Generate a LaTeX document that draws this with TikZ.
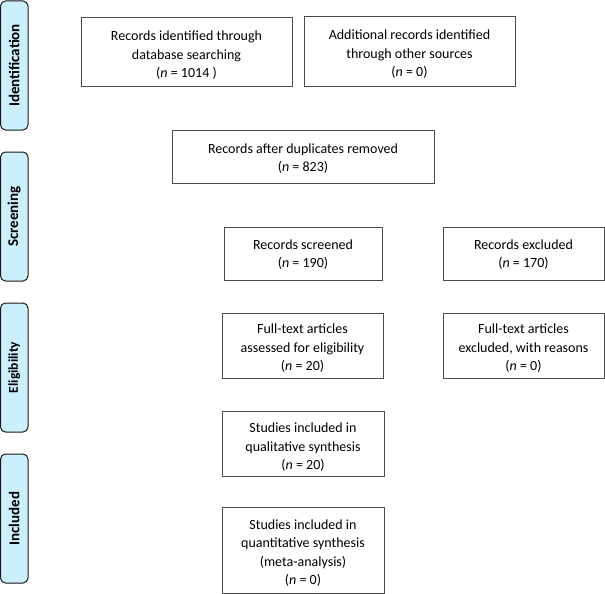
\documentclass[tikz,border=0pt]{standalone}
\usepackage{fontspec}
\setmainfont{Carlito}
\begin{document}
\begin{tikzpicture}[x=1pt,y=-1pt,
  box/.style={draw=black!70,line width=0.9pt,fill=white,inner sep=0pt},
  lbl/.style={align=center,inner sep=0pt,yshift=-3pt,
    font=\fontsize{14}{18.5}\selectfont},
  phase/.style={draw=black!90,line width=1pt,fill=cyan!20,rounded corners=5pt,
    minimum width=27.5pt,minimum height=129pt,inner sep=0pt},
  phasetext/.style={rotate=90,font=\fontsize{15}{17}\selectfont\bfseries}]
\useasboundingbox (0,0) rectangle (605,594);
% phase bars
\node[phase] (pid) at (14.25,65.5) {};
\node[phasetext] (tid) at (pid.center) {Identification};
\node[phase] (psc) at (14.25,216.5) {};
\node[phasetext] (tsc) at (psc.center) {Screening};
\node[phase] (pel) at (14.25,367.5) {};
\node[phasetext,font=\fontsize{13.5}{15}\selectfont\bfseries] (tel) at (pel.center) {Eligibility};
\node[phase] (pin) at (14.25,518.5) {};
\node[phasetext] (tin) at (pin.center) {Included};
% boxes
\node[box,minimum width=211pt,minimum height=69pt,
  label={[lbl,yshift=-1pt]center:{Records identified through\\database searching\\(\textit{n} = 1014 )}}] (db) at (186.5,51.5) {};
\node[box,minimum width=211pt,minimum height=70pt,
  label={[lbl]center:{Additional records identified\\through other sources\\(\textit{n} = 0)}}] (other) at (409.5,51.5) {};
\node[box,minimum width=262pt,minimum height=53pt,
  label={[lbl,yshift=1pt]center:{Records after duplicates removed\\(\textit{n} = 823)}}] (dup) at (303,156.5) {};
\node[box,minimum width=158pt,minimum height=53pt,
  label={[lbl,yshift=2pt]center:{Records screened\\(\textit{n} = 190)}}] (scr) at (303,253.5) {};
\node[box,minimum width=161pt,minimum height=53pt,
  label={[lbl,yshift=2pt]center:{Records excluded\\(\textit{n} = 170)}}] (exc) at (523.5,253.5) {};
\node[box,minimum width=161pt,minimum height=65pt,
  label={[lbl]center:{Full-text articles\\assessed for eligibility\\(\textit{n} = 20)}}] (ft) at (302.5,345.5) {};
\node[box,minimum width=161pt,minimum height=65pt,
  label={[lbl]center:{Full-text articles\\excluded, with reasons\\(\textit{n} = 0)}}] (ftx) at (523.5,345.5) {};
\node[box,minimum width=162pt,minimum height=65pt,
  label={[lbl,yshift=-1pt]center:{Studies included in\\qualitative synthesis\\(\textit{n} = 20)}}] (qual) at (303,443.5) {};
\node[box,minimum width=162pt,minimum height=86pt,
  label={[lbl]center:{Studies included in\\quantitative synthesis\\(meta-analysis)\\(\textit{n} = 0)}}] (quant) at (303,550) {};
\end{tikzpicture}
\end{document}
